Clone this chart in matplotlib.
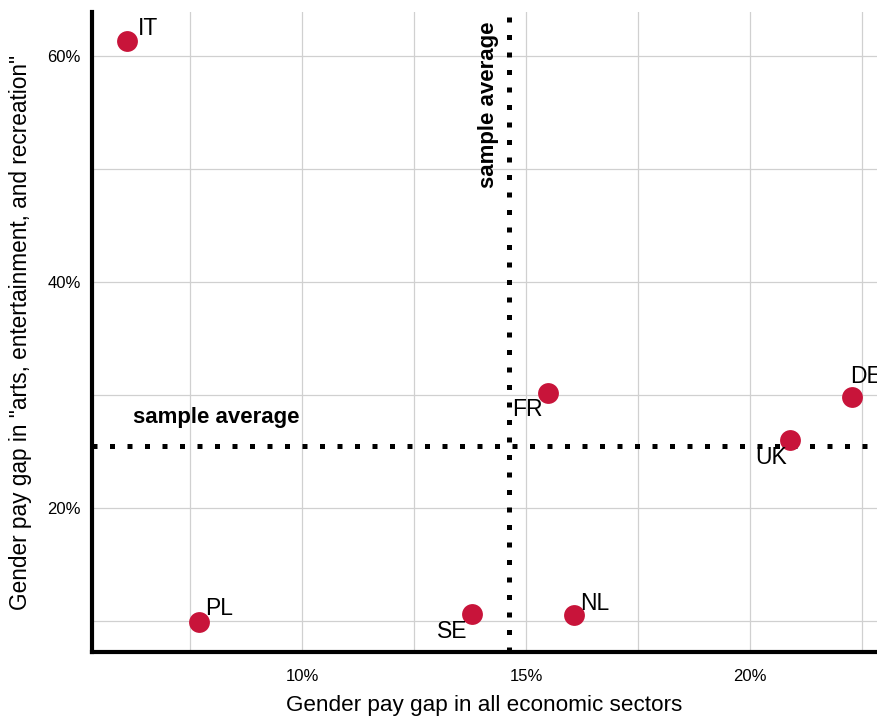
import matplotlib
matplotlib.use("Agg")
import matplotlib.pyplot as plt
import numpy as np

plt.rcParams['font.family'] = ['Liberation Sans', 'DejaVu Sans']

countries = ["IT", "PL", "SE", "NL", "FR", "UK", "DE"]
gap_all = [6.10, 7.70, 13.79, 16.07, 15.48, 20.88, 22.28]
gap_arts = [61.3, 9.9, 10.6, 10.5, 30.16, 26.06, 29.84]
x_ticks = [10, 15, 20]
y_ticks = [20, 40, 60]

# label offsets in pixels (style only)
label_offsets = {
    "IT": (10, 13, "left"), "PL": (6, 14, "left"), "SE": (-4, -17, "right"),
    "NL": (6, 12, "left"), "FR": (-5, -16, "right"), "UK": (-3, -18, "right"),
    "DE": (-2, 20, "left"),
}

W, H = 877, 717
fig = plt.figure(figsize=(W / 100, H / 100), dpi=100)
L, R, T, B = 92, 877, 12, 652
ax = fig.add_axes([L / W, 1 - B / H, (R - L) / W, (B - T) / H])

ax.set_xlim(5.31, 22.83)
ax.set_ylim(7.26, 63.9)

xt = np.arange(7.5, 22.6, 2.5)
ax.set_xticks(xt)
ax.set_xticklabels([f"{int(v)}%" if v in x_ticks else "" for v in xt])
yt = np.arange(10, 61, 10)
ax.set_yticks(yt)
ax.set_yticklabels([f"{int(v)}%" if v in y_ticks else "" for v in yt])
ax.tick_params(length=0, labelsize=12)
ax.tick_params(axis='y', pad=8)
ax.tick_params(axis='x', pad=12)
ax.grid(True, color='#d0d0d0', lw=0.9)
ax.set_axisbelow(True)

for s in ['top', 'right']:
    ax.spines[s].set_visible(False)
for s in ['left', 'bottom']:
    ax.spines[s].set_linewidth(3)
    ax.spines[s].set_color('black')

avg_x = np.mean(gap_all)
avg_y = np.mean(gap_arts)
dot = (0, (1, 2.5))
ax.axvline(avg_x, color='black', lw=3.6, linestyle=dot, zorder=2)
ax.axhline(avg_y, color='black', lw=3.6, linestyle=dot, zorder=2)

ax.scatter(gap_all, gap_arts, s=225, color='#C8143A', zorder=3, linewidths=0)

for c, x, y in zip(countries, gap_all, gap_arts):
    dx, dy, ha = label_offsets[c]
    ax.annotate(c, (x, y), xytext=(dx, dy), textcoords='offset pixels',
                ha=ha, va='center', fontsize=16.5, zorder=4)

ax.annotate("sample average", (ax.get_xlim()[0], avg_y), xytext=(41, 29),
            textcoords='offset pixels', ha='left', va='center',
            fontsize=16, fontweight='bold')
ax.annotate("sample average", (avg_x, ax.get_ylim()[1]), xytext=(-20, -10),
            textcoords='offset pixels', ha='center', va='top', rotation=90,
            fontsize=16, fontweight='bold')

ax.set_xlabel("Gender pay gap in all economic sectors", fontsize=16.2, labelpad=8)
ax.set_ylabel('Gender pay gap in "arts, entertainment, and recreation"', fontsize=16.3, labelpad=11)

fig.savefig("out.png", dpi=100)
